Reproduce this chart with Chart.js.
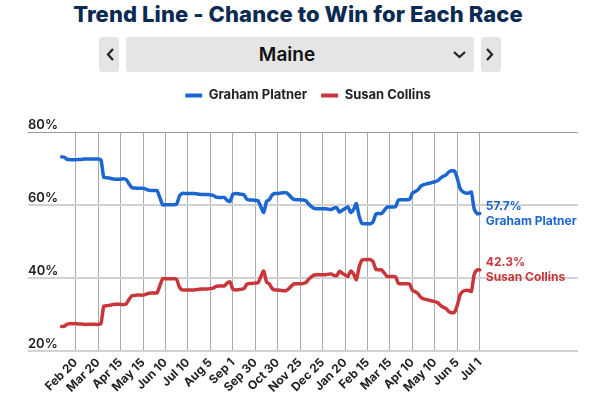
<!DOCTYPE html>
<html>
<head>
<meta charset="utf-8">
<script src="https://cdn.jsdelivr.net/npm/chart.js@4.4.0/dist/chart.umd.min.js"></script>
<style>
  body { margin: 0; width: 596px; height: 401px; background: #fff; overflow: hidden; position: relative; font-family: Inter, "Open Sans", sans-serif; }
  h1 { position: absolute; top: 1px; left: 0; width: 596px; margin: 0; text-align: center; font-size: 22px; font-weight: 800; color: #0b2a52; letter-spacing: 0.1px; }
  .box { position: absolute; top: 37px; height: 35px; background: #e5e5e5; border-radius: 3px; }
  .box svg { position: absolute; left: 0; top: 0; }
  .name { position: absolute; left: 0; top: 0; width: 322px; line-height: 35px; text-align: center; font-size: 19px; font-weight: 600; color: #111; }
  #wrap { position: absolute; left: 0; top: 80px; width: 596px; height: 321px; }
</style>
</head>
<body>
<h1>Trend Line - Chance to Win for Each Race</h1>
<div class="box" style="left:99px;width:20px">
  <svg width="20" height="35"><polyline points="14,12 9,17.5 14,23" fill="none" stroke="#222" stroke-width="2.2"/></svg>
</div>
<div class="box" style="left:126px;width:348px">
  <div class="name">Maine</div>
  <svg width="348" height="35"><polyline points="328,15 333.5,20 339,15" fill="none" stroke="#222" stroke-width="2.2"/></svg>
</div>
<div class="box" style="left:481px;width:20px">
  <svg width="20" height="35"><polyline points="6,12 11,17.5 6,23" fill="none" stroke="#222" stroke-width="2.2"/></svg>
</div>
<div id="wrap"><canvas id="trend"></canvas></div>
<script>
// tick labels, one every 8 readings
const tickLabels = ['Feb 20', 'Mar 20', 'Apr 15', 'May 15', 'Jun 10', 'Jul 10', 'Aug 5', 'Sep 1', 'Sep 30',
  'Oct 30', 'Nov 25', 'Dec 25', 'Jan 20', 'Feb 15', 'Mar 15', 'Apr 10', 'May 10', 'Jun 5', 'Jul 1'];

// chance to win (%)
const platner = [
  73.2, 73.1, 72.5, 72.4, 72.4, 72.4, 72.5, 72.5,
  72.6, 72.6, 72.6, 72.6, 72.6, 72.6, 72.4, 67.6,
  67.5, 67.4, 67.2, 67.1, 67.1, 67.1, 67.2, 67.0,
  65.8, 64.8, 64.7, 64.6, 64.6, 64.6, 64.4, 64.1,
  64.0, 64.0, 64.0, 62.0, 60.1, 60.1, 60.1, 60.1,
  60.1, 60.3, 62.5, 63.2, 63.2, 63.2, 63.2, 63.2,
  63.1, 63.0, 62.9, 62.9, 62.9, 62.8, 62.7, 62.2,
  62.1, 62.1, 62.1, 61.3, 61.0, 63.0, 63.2, 63.1,
  63.0, 62.8, 61.6, 61.4, 61.4, 61.3, 61.2, 59.5,
  58.0, 61.0, 61.5, 62.8, 63.2, 63.2, 63.3, 63.4,
  63.4, 62.8, 62.0, 61.5, 61.5, 61.5, 61.4, 61.2,
  60.3, 59.6, 59.1, 59.0, 59.0, 59.0, 59.0, 58.9,
  58.8, 59.2, 59.3, 58.1, 58.6, 59.1, 59.5, 58.0,
  58.8, 60.4, 57.0, 55.0, 54.9, 54.9, 54.9, 55.5,
  57.6, 57.7, 57.7, 58.6, 59.5, 59.5, 59.5, 59.6,
  61.4, 61.5, 61.5, 61.5, 61.6, 63.3, 63.7, 64.2,
  65.2, 65.6, 65.8, 66.0, 66.2, 66.4, 66.7, 67.4,
  67.9, 68.3, 69.1, 69.4, 69.3, 67.3, 64.5, 63.6,
  63.3, 63.3, 63.6, 59.0, 57.7, 57.7
];
const collins = [
  26.8, 26.9, 27.5, 27.6, 27.6, 27.6, 27.5, 27.5,
  27.4, 27.4, 27.4, 27.4, 27.4, 27.4, 27.6, 32.4,
  32.5, 32.6, 32.8, 32.9, 32.9, 32.9, 32.8, 33.0,
  34.2, 35.2, 35.3, 35.4, 35.4, 35.4, 35.6, 35.9,
  36.0, 36.0, 36.0, 38.0, 39.9, 39.9, 39.9, 39.9,
  39.9, 39.7, 37.5, 36.8, 36.8, 36.8, 36.8, 36.8,
  36.9, 37.0, 37.1, 37.1, 37.1, 37.2, 37.3, 37.8,
  37.9, 37.9, 37.9, 38.7, 39.0, 37.0, 36.8, 36.9,
  37.0, 37.2, 38.4, 38.6, 38.6, 38.7, 38.8, 40.5,
  42.0, 39.0, 38.5, 37.2, 36.8, 36.8, 36.7, 36.6,
  36.6, 37.2, 38.0, 38.5, 38.5, 38.5, 38.6, 38.8,
  39.7, 40.4, 40.9, 41.0, 41.0, 41.0, 41.0, 41.1,
  41.2, 40.8, 40.7, 41.9, 41.4, 40.9, 40.5, 42.0,
  41.2, 39.6, 43.0, 45.0, 45.1, 45.1, 45.1, 44.5,
  42.4, 42.3, 42.3, 41.4, 40.5, 40.5, 40.5, 40.4,
  38.6, 38.5, 38.5, 38.5, 38.4, 36.7, 36.3, 35.8,
  34.8, 34.4, 34.2, 34.0, 33.8, 33.6, 33.3, 32.6,
  32.1, 31.7, 30.9, 30.6, 30.7, 32.7, 35.5, 36.4,
  36.7, 36.7, 36.4, 41.0, 42.3, 42.3
];
const yTicks = [20, 40, 60, 80];

const perTick = 8;      // readings between labelled ticks
const leadIn = 5;       // readings before the first label
const padBefore = 12;   // empty slots left of the data
const padAfter = 35;    // empty slots right of the data (room for end labels)

const total = padBefore + platner.length + padAfter;
const labels = [];
for (let i = 0; i < total; i++) {
  const k = i - padBefore - leadIn;
  labels.push(k >= 0 && k % perTick === 0 && tickLabels[k / perTick] ? tickLabels[k / perTick] : '');
}
const pad = arr => new Array(padBefore).fill(null).concat(arr);

const BLUE = '#1b66d0';
const RED = '#c8363a';
const FONT = 'Inter, "Open Sans", sans-serif';

// last value + name next to the end of each line
const endLabels = {
  id: 'endLabels',
  afterDatasetsDraw(chart) {
    const ctx = chart.ctx;
    chart.data.datasets.forEach((ds, i) => {
      const meta = chart.getDatasetMeta(i);
      let k = ds.data.length - 1;
      while (k >= 0 && ds.data[k] == null) k--;
      const pt = meta.data[k];
      ctx.save();
      ctx.fillStyle = ds.borderColor;
      ctx.font = '700 12px ' + FONT;
      ctx.textBaseline = 'middle';
      ctx.fillText(ds.data[k].toFixed(1) + '%', pt.x + 6, pt.y - 7.5);
      ctx.fillText(ds.label, pt.x + 6, pt.y + 7.5);
      ctx.restore();
    });
  }
};

// move the legend to where the page has it
const legendNudge = {
  id: 'legendNudge',
  afterUpdate(chart) {
    const lg = chart.legend;
    lg.left += 5; lg.right += 5;
    lg.top -= 20; lg.bottom -= 20;
    lg.adjustHitBoxes();
  }
};

new Chart(document.getElementById('trend'), {
  type: 'line',
  data: {
    labels: labels,
    datasets: [
      {
        label: 'Graham Platner',
        data: pad(platner),
        borderColor: BLUE,
        backgroundColor: BLUE,
        borderWidth: 3.5,
        tension: 0.2,
        pointRadius: 0,
        borderJoinStyle: 'round',
        borderCapStyle: 'round'
      },
      {
        label: 'Susan Collins',
        data: pad(collins),
        borderColor: RED,
        backgroundColor: RED,
        borderWidth: 3.5,
        tension: 0.2,
        pointRadius: 0,
        borderJoinStyle: 'round',
        borderCapStyle: 'round'
      }
    ]
  },
  options: {
    responsive: true,
    maintainAspectRatio: false,
    animation: false,
    layout: { padding: { top: 15, left: 28, right: 18, bottom: 2 } },
    plugins: {
      legend: {
        position: 'top',
        labels: {
          boxWidth: 17,
          boxHeight: 4,
          padding: 14,
          color: '#222',
          font: { family: FONT, size: 13, weight: '700' },
          generateLabels: chart => Chart.defaults.plugins.legend.labels.generateLabels(chart)
            .map(l => Object.assign(l, { lineWidth: 0 }))
        }
      },
      tooltip: { enabled: false }
    },
    scales: {
      x: {
        type: 'category',
        border: { display: false },
        grid: {
          drawTicks: false,
          color: c => (c.tick && c.tick.label ? '#aaaaaa' : 'rgba(0,0,0,0)'),
          lineWidth: 1
        },
        ticks: {
          autoSkip: false,
          maxRotation: 45,
          minRotation: 45,
          padding: 4,
          color: '#222',
          font: { family: FONT, size: 12, weight: '700' }
        }
      },
      y: {
        min: 20,
        max: 80,
        afterBuildTicks: axis => { axis.ticks = yTicks.map(v => ({ value: v })); },
        border: { display: false },
        grid: {
          drawTicks: false,
          color: c => (c.tick && c.tick.value === 80 ? '#9a9a9a' : '#d2d2d2'),
          lineWidth: c => (c.tick && c.tick.value === 80 ? 1 : 2)
        },
        ticks: {
          mirror: true,
          padding: 0,
          labelOffset: -7,
          color: '#222',
          font: { family: FONT, size: 13, weight: '600' },
          callback: v => v + '%'
        }
      }
    }
  },
  plugins: [endLabels, legendNudge]
});
</script>
</body>
</html>
